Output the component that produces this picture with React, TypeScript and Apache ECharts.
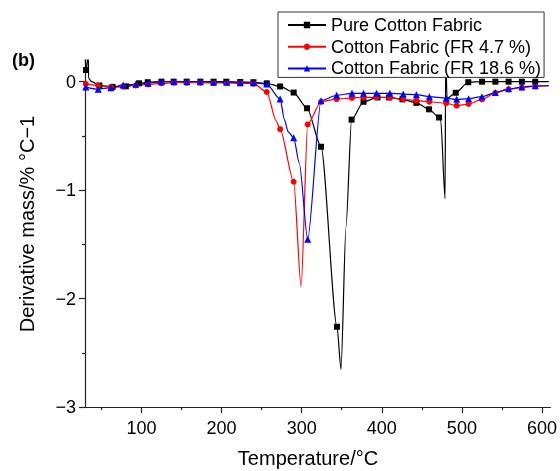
import React, { useEffect, useRef } from "react";
import * as echarts from "echarts";

// Temperature (°C) and derivative mass (%/°C)
const pureT = [29.5, 30.8, 33.6, 34.0, 38, 47.4, 64, 80.5, 97, 107.8, 124.9, 140.2, 156.4, 173.5, 190, 205.9, 223.3, 239.8, 256.4, 273.1, 290.0, 306.7, 324.2, 344.1, 349.1, 355.3, 362.3, 377.2, 394.6, 409.2, 425.8, 443.2, 459.0, 471.5, 473.6, 479.0, 479.8, 481.5, 492.3, 508.0, 525.2, 541.8, 558.3, 574.9, 591.6, 608.5];
const pureV = [0.25, 0.108, 0.25, 0.03, 0.0, -0.035, -0.048, -0.043, -0.015, -0.005, 0, 0, 0, 0, 0, 0, -0.003, -0.005, -0.015, -0.044, -0.10, -0.245, -0.60, -2.26, -2.653, -1.34, -0.35, -0.185, -0.145, -0.145, -0.163, -0.195, -0.255, -0.33, -0.355, -1.08, 0.25, -0.153, -0.102, -0.005, 0, 0, 0, 0, 0, 0];
const pureUnmarked = [29.5, 33.6, 34.0, 38, 349.1, 355.3, 473.6, 479.0, 479.8, 481.5, 608.5];

const fr47T = [30.5, 46, 61.8, 77.1, 92.9, 108.2, 124.9, 140.6, 156.8, 173.5, 190, 206.6, 223.3, 239.8, 256.4, 268.1, 273.1, 290.0, 299.3, 307.5, 324.2, 343.6, 362.8, 377.2, 393.4, 410.1, 426.7, 443.2, 459.4, 480.5, 493.5, 508.4, 525.0, 541.7, 558.3, 574.9, 591.6, 608.5];
const fr47V = [-0.02, -0.035, -0.05, -0.045, -0.035, -0.025, -0.015, -0.01, -0.01, -0.01, -0.012, -0.012, -0.015, -0.018, -0.095, -0.36, -0.438, -0.923, -1.891, -0.394, -0.185, -0.16, -0.15, -0.145, -0.144, -0.148, -0.162, -0.175, -0.185, -0.199, -0.221, -0.206, -0.164, -0.104, -0.07, -0.054, -0.042, -0.04];
const fr47Unmarked = [268.1, 299.3, 608.5];

const fr186T = [30.5, 46, 61.8, 77.1, 92.9, 108.2, 124.9, 140.6, 156.8, 173.5, 190, 206.6, 223.3, 239.8, 256.4, 273.1, 278.5, 283, 290.0, 297, 307.5, 324.2, 343.6, 362.8, 377.2, 393.4, 410.1, 426.7, 443.2, 459.4, 480.5, 493.5, 508.4, 525.0, 541.7, 558.3, 574.9, 591.6, 608.5];
const fr186V = [-0.05, -0.07, -0.055, -0.03, -0.024, -0.015, 0, 0, 0, 0, -0.005, -0.005, -0.01, -0.01, -0.022, -0.16, -0.35, -0.46, -0.517, -0.75, -1.454, -0.175, -0.125, -0.107, -0.107, -0.107, -0.107, -0.114, -0.12, -0.138, -0.153, -0.163, -0.157, -0.138, -0.1, -0.066, -0.05, -0.038, -0.035];
const fr186Unmarked = [278.5, 283, 297, 608.5];

const seriesNames = ["Pure Cotton Fabric", "Cotton Fabric (FR 4.7 %)", "Cotton Fabric (FR 18.6 %)"];
const xMajorTicks = [100, 200, 300, 400, 500, 600];
const xMinorTicks = [50, 150, 250, 350, 450, 550];
const yMajorTicks = [-3, -2, -1, 0];
const yMinorTicks = [-2.5, -1.5, -0.5];

const FONT = "'Liberation Sans', Arial, Helvetica, sans-serif";

function buildData(ts: number[], vs: number[], unmarked: number[]) {
  return ts.map((t, i) =>
    unmarked.includes(t) ? { value: [t, vs[i]], symbol: "none" } : { value: [t, vs[i]] }
  );
}

export default function App() {
  const ref = useRef<HTMLDivElement>(null);
  useEffect(() => {
    if (!ref.current) return;
    const chart = echarts.init(ref.current, undefined, { renderer: "svg" });
    const fmt = (v: number) => (v < 0 ? "\u2212" + Math.abs(v) : String(v));
    const axisLineStyle = { color: "#222", width: 1.2 };
    const mk = (name: string, color: string, symbol: string, size: number, data: any[]) => ({
      name,
      type: "line",
      xAxisIndex: 0,
      yAxisIndex: 0,
      data,
      smooth: 0.25,
      smoothMonotone: "x",
      symbol,
      symbolSize: size,
      showSymbol: true,
      showAllSymbol: true,
      lineStyle: { color, width: 1.2 },
      itemStyle: { color, borderWidth: 0 },
      emphasis: { disabled: true },
    });
    chart.setOption({
      animation: false,
      grid: { left: 85, right: 8, top: 60, bottom: 64 },
      xAxis: [
        {
          type: "value",
          min: 29.5,
          max: 610.5,
          position: "bottom",
          axisLine: { show: true, onZero: false, lineStyle: axisLineStyle },
          axisTick: { show: true, length: 6, inside: false, customValues: xMajorTicks, lineStyle: axisLineStyle },
          axisLabel: { customValues: xMajorTicks, fontSize: 18, fontFamily: FONT, color: "#000", margin: 12 },
          splitLine: { show: false },
        },
        {
          type: "value",
          min: 29.5,
          max: 610.5,
          position: "bottom",
          axisLine: { show: false, onZero: false },
          axisTick: { show: true, length: 3, customValues: xMinorTicks, lineStyle: axisLineStyle },
          axisLabel: { show: false },
          splitLine: { show: false },
        },
      ],
      yAxis: [
        {
          type: "value",
          min: -3,
          max: 0.2,
          position: "left",
          axisLine: { show: true, onZero: false, lineStyle: axisLineStyle },
          axisTick: { show: true, length: 6, customValues: yMajorTicks, lineStyle: axisLineStyle },
          axisLabel: { customValues: yMajorTicks, formatter: fmt, fontSize: 18, fontFamily: FONT, color: "#000", margin: 9 },
          splitLine: { show: false },
        },
        {
          type: "value",
          min: -3,
          max: 0.2,
          position: "left",
          axisLine: { show: false, onZero: false },
          axisTick: { show: true, length: 3, customValues: yMinorTicks, lineStyle: axisLineStyle },
          axisLabel: { show: false },
          splitLine: { show: false },
        },
      ],
      legend: {
        data: seriesNames,
        orient: "vertical",
        left: 278,
        top: 12,
        backgroundColor: "#fff",
        borderColor: "#333",
        borderWidth: 1,
        borderRadius: 0,
        padding: [4, 3, 0, 9],
        itemWidth: 38,
        itemHeight: 8,
        itemGap: 3.7,
        textStyle: { fontSize: 18, lineHeight: 18, fontFamily: FONT, color: "#000" },
        selectedMode: false,
      },
      graphic: [
        {
          type: "text",
          x: 12,
          y: 60,
          style: { text: "(b)", fontSize: 18, fontWeight: "bold", fontFamily: FONT, fill: "#000", align: "left", verticalAlign: "middle" },
        },
        {
          type: "text",
          x: 308,
          y: 458,
          style: { text: "Temperature/°C", fontSize: 20, fontFamily: FONT, fill: "#000", align: "center", verticalAlign: "middle" },
        },
        {
          type: "text",
          x: 27,
          y: 224,
          rotation: Math.PI / 2,
          style: { text: "Derivative mass/% °C\u22121", fontSize: 20, fontFamily: FONT, fill: "#000", align: "center", verticalAlign: "middle" },
        },
      ],
      series: [
        mk(seriesNames[0], "#000000", "rect", 6, buildData(pureT, pureV, pureUnmarked)),
        mk(seriesNames[1], "#ff0000", "circle", 6, buildData(fr47T, fr47V, fr47Unmarked)),
        mk(seriesNames[2], "#0000ff", "triangle", 7, buildData(fr186T, fr186V, fr186Unmarked)),
      ],
    });
    return () => chart.dispose();
  }, []);
  return <div ref={ref} style={{ position: "fixed", left: 0, top: 0, width: 560, height: 471 }} />;
}
